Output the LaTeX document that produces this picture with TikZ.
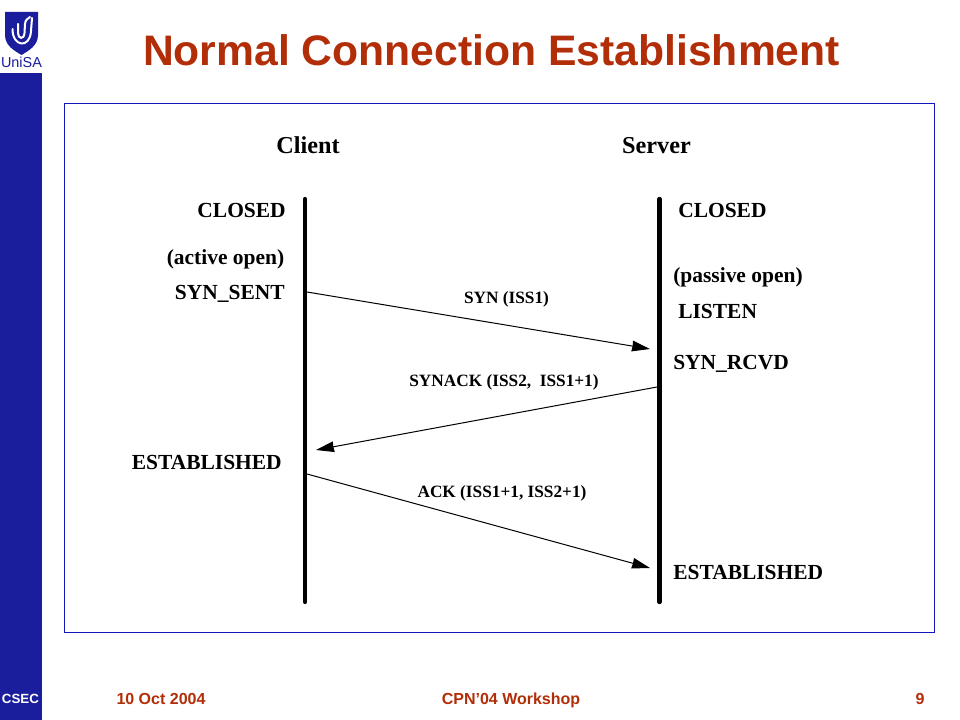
\documentclass[tikz,border=0pt]{standalone}
\usepackage{fontspec}
\setmainfont{Liberation Serif}
\newfontfamily\arial{Liberation Sans}
\usetikzlibrary{arrows.meta}
\definecolor{sidebar}{RGB}{26,29,156}
\definecolor{titlered}{RGB}{178,46,8}
\definecolor{framecol}{RGB}{20,20,190}
\tikzset{
  px/.style={x=0.75pt,y=-0.75pt},
  lifeline/.style={line width=3.2pt,line cap=round},
  msg/.style={line width=0.75pt,-{Stealth[length=13.5pt,width=8pt,inset=0.3pt]}},
  state/.style={font=\fontsize{16.1}{18}\selectfont\bfseries,inner sep=0pt,anchor=base east},
  stateL/.style={font=\fontsize{16.1}{18}\selectfont\bfseries,inner sep=0pt,anchor=base west},
  head/.style={font=\fontsize{18.2}{20}\selectfont\bfseries,inner sep=0pt,anchor=base},
  msglab/.style={font=\fontsize{12.95}{14}\selectfont\bfseries,inner sep=0pt,anchor=base},
  foot/.style={font=\arial\fontsize{12}{14}\selectfont\bfseries,text=titlered,inner sep=0pt,anchor=base},
}
\begin{document}
\begin{tikzpicture}[px]
\useasboundingbox (0,0) rectangle (960,720);
\fill[white] (0,0) rectangle (960,720);
% sidebar and logo
\fill[sidebar] (0,73) rectangle (42,720);
\fill[sidebar] (5,12) -- (38,12) -- (38,35) .. controls (38,46) and (28,51) .. (21.5,55) .. controls (15,51) and (5,46) .. (5,35) -- cycle;
\draw[white,line width=1.5pt,line cap=round] (12.5,29) .. controls (12.5,47) and (30,49) .. (31,31) -- (32,18);
\draw[white,line width=1.5pt,line cap=round] (18,24) -- (18,33) .. controls (18,39) and (24,40) .. (24.5,33) -- (25,24) .. controls (25.5,20) and (27,19) .. (30,17);
\node[font=\arial\fontsize{10.8}{13}\selectfont,text=sidebar,inner sep=0pt,anchor=base] (logo) at (21.5,68) {UniSA};
\node[font=\arial\fontsize{10}{11}\selectfont\bfseries,text=white,inner sep=0pt,anchor=base] (csec) at (20.5,703) {CSEC};
% title
\node[font=\arial\fontsize{32}{36}\selectfont\bfseries,text=titlered,inner sep=0pt,anchor=base] (title) at (491.5,66) {Normal Connection Establishment};
% frame
\node[draw=framecol,line width=0.75pt,inner sep=0pt,outer sep=0pt,anchor=north west,minimum width=652.5pt,minimum height=396.75pt] (frame) at (64.5,103.5) {};
% lifelines
\coordinate (ctop) at (305,199);
\coordinate (cbot) at (305,602);
\coordinate (stop) at (659.5,199);
\coordinate (sbot) at (659.5,602);
\draw[lifeline] (ctop) -- (cbot);
\draw[lifeline] (stop) -- (sbot);
% headers
\node[head] (client) at (308,154) {Client};
\node[head] (server) at (656.5,154) {Server};
% client states
\node[state] (c1) at (286,218) {CLOSED};
\node[state] (c2) at (284.5,265) {(active open)};
\node[state] (c3) at (285,300) {SYN\_SENT};
\node[state] (c4) at (282,469) {ESTABLISHED};
% server states
\node[stateL] (s1) at (678,218) {CLOSED};
\node[stateL] (s2) at (673,283) {(passive open)};
\node[stateL] (s3) at (678,319) {LISTEN};
\node[stateL] (s4) at (673,369) {SYN\_RCVD};
\node[stateL] (s5) at (673,579) {ESTABLISHED};
% messages
\coordinate (m1a) at (307,292);
\coordinate (m1b) at (650,349);
\coordinate (m2a) at (657,387);
\coordinate (m2b) at (316,450);
\coordinate (m3a) at (307,474);
\coordinate (m3b) at (650,568);
\draw[msg] (m1a) -- (m1b);
\draw[msg] (m2a) -- (m2b);
\draw[msg] (m3a) -- (m3b);
\node[msglab] (l1) at (506.5,304) {SYN (ISS1)};
\node[msglab] (l2) at (504,386) {SYNACK (ISS2,\ \ ISS1+1)};
\node[msglab] (l3) at (502,497) {ACK (ISS1+1, ISS2+1)};
% footer
\node[foot] (f1) at (161,704) {10 Oct 2004};
\node[foot] (f2) at (511,704) {CPN’04 Workshop};
\node[foot] (f3) at (920,704) {9};
\end{tikzpicture}
\end{document}
